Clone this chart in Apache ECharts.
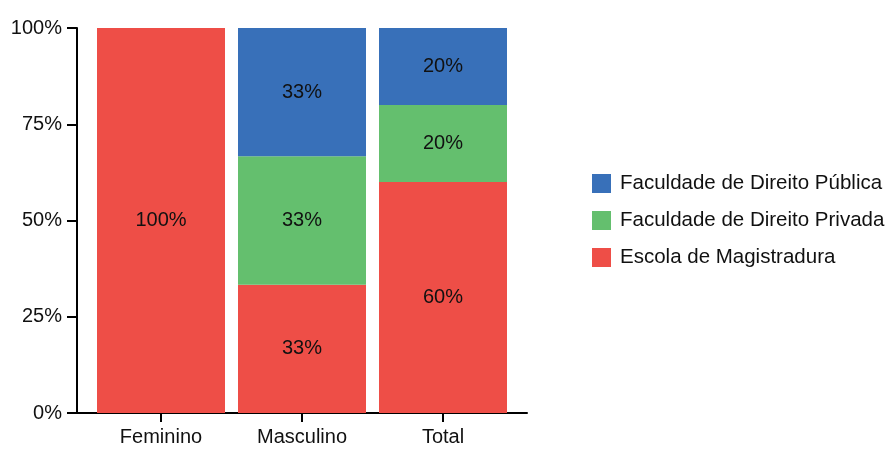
<!DOCTYPE html>
<html>
<head>
<meta charset="utf-8">
<script src="https://cdn.jsdelivr.net/npm/echarts@6/dist/echarts.min.js"></script>
<style>
  html, body { margin: 0; padding: 0; background: #fff; }
  #chart { width: 895px; height: 452px; }
</style>
</head>
<body>
<div id="chart"></div>
<script>
var categories = ['Feminino', 'Masculino', 'Total'];
var escola = [100, 33.33, 60];
var privada = [0, 33.33, 20];
var publica = [0, 33.34, 20];

var font = 'Liberation Sans, Arial, sans-serif';

function makeSeries(name, values, color) {
  return {
    name: name,
    type: 'bar',
    stack: 'all',
    xAxisIndex: 1,
    yAxisIndex: 1,
    barWidth: 128,
    itemStyle: { color: color },
    label: {
      show: true,
      position: 'inside',
      color: '#111',
      fontFamily: font,
      fontSize: 20,
      formatter: function (p) {
        return p.value > 0 ? Math.round(p.value) + '%' : '';
      }
    },
    data: values
  };
}

var chart = echarts.init(document.getElementById('chart'));
var option = {
  animation: false,
  // grid 0 carries the visible axis lines, grid 1 (a bit narrower) the bars
  grid: [
    { left: 77, right: 368, top: 28, bottom: 39 },
    { left: 90.5, right: 381.5, top: 28, bottom: 39 }
  ],
  legend: {
    orient: 'vertical',
    left: 592,
    top: 173,
    padding: 0,
    itemWidth: 19,
    itemHeight: 19,
    itemGap: 16,
    icon: 'rect',
    data: ['Faculdade de Direito Pública', 'Faculdade de Direito Privada', 'Escola de Magistradura'],
    textStyle: { fontFamily: font, fontSize: 20.5, color: '#111', padding: [0, 0, 0, 4] }
  },
  xAxis: [
    {
      gridIndex: 0,
      type: 'value',
      min: 0,
      max: 1,
      splitLine: { show: false },
      axisLine: { show: true, lineStyle: { color: '#000', width: 2 } },
      axisTick: { show: false },
      axisLabel: { show: false }
    },
    {
      gridIndex: 1,
      type: 'category',
      data: categories,
      axisLine: { show: false },
      axisTick: { show: true, alignWithLabel: true, length: 9, lineStyle: { color: '#000', width: 2 } },
      axisLabel: { margin: 14, color: '#111', fontFamily: font, fontSize: 20 }
    }
  ],
  yAxis: [
    {
      gridIndex: 0,
      type: 'value',
      min: 0,
      max: 100,
      interval: 25,
      splitLine: { show: false },
      axisLine: { show: true, lineStyle: { color: '#000', width: 2 } },
      axisTick: { show: true, length: 10, lineStyle: { color: '#000', width: 2 } },
      axisLabel: { margin: 15, color: '#111', fontFamily: font, fontSize: 20, formatter: '{value}%' }
    },
    {
      gridIndex: 1,
      type: 'value',
      min: 0,
      max: 100,
      show: false
    }
  ],
  series: [
    makeSeries('Escola de Magistradura', escola, '#ee4e47'),
    makeSeries('Faculdade de Direito Privada', privada, '#64bf6e'),
    makeSeries('Faculdade de Direito Pública', publica, '#3870b9')
  ]
};
chart.setOption(option);
</script>
</body>
</html>
